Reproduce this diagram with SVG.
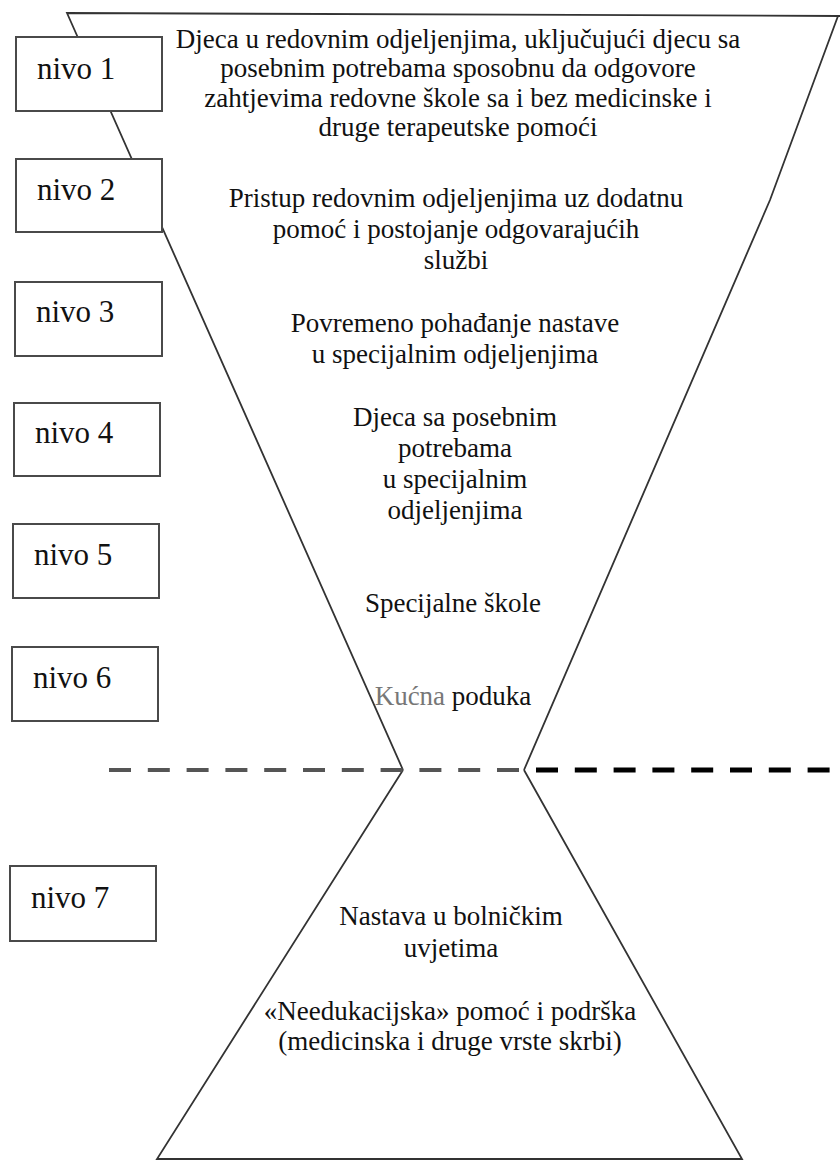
<svg xmlns="http://www.w3.org/2000/svg" width="840" height="1162" viewBox="0 0 840 1162">
<style>
.box{fill:#fff;stroke:#4a4a4a;stroke-width:2}
.lbl{font-family:"Liberation Serif","Times New Roman",serif;font-size:31px;fill:#111}
.txt{font-family:"Liberation Serif","Times New Roman",serif;font-size:27px;fill:#111;text-anchor:middle}
.edge{fill:none;stroke:#333;stroke-width:1.8;stroke-linejoin:miter}
.dashg{stroke:#555;stroke-width:4;stroke-dasharray:22 16.8;fill:none}
.dashb{stroke:#000;stroke-width:5;stroke-dasharray:22 16.8;fill:none}
</style>
<rect width="840" height="1162" fill="#fff"/>
<g id="funnel">
<polyline class="edge" points="403,770 67,13 840,16"/>
<polyline class="edge" points="838,16 770,200 524,770"/>
<polyline class="edge" points="403,770 157,1159 742,1159 524,770"/>
</g>
<g id="connectors">
<line class="dashg" x1="109" y1="770" x2="522" y2="770"/>
<line class="dashb" x1="536" y1="770" x2="832" y2="770"/>
</g>
<g id="nivo1"><rect class="box" x="16" y="37" width="146" height="74"/><text class="lbl" x="37" y="79">nivo 1</text></g>
<g id="nivo2"><rect class="box" x="16" y="159" width="146" height="73"/><text class="lbl" x="37" y="200">nivo 2</text></g>
<g id="nivo3"><rect class="box" x="15" y="282" width="147" height="74"/><text class="lbl" x="36" y="322">nivo 3</text></g>
<g id="nivo4"><rect class="box" x="14" y="403" width="146" height="73"/><text class="lbl" x="35" y="443">nivo 4</text></g>
<g id="nivo5"><rect class="box" x="13" y="524" width="146" height="74"/><text class="lbl" x="34" y="565">nivo 5</text></g>
<g id="nivo6"><rect class="box" x="12" y="647" width="146" height="74"/><text class="lbl" x="33" y="688">nivo 6</text></g>
<g id="nivo7"><rect class="box" x="10" y="866" width="146" height="75"/><text class="lbl" x="31" y="908">nivo 7</text></g>
<g id="text1">
<text class="txt" x="458" y="48">Djeca u redovnim odjeljenjima, uključujući djecu sa</text>
<text class="txt" x="458" y="77">posebnim potrebama sposobnu da odgovore</text>
<text class="txt" x="458" y="107">zahtjevima redovne škole sa i bez medicinske i</text>
<text class="txt" x="458" y="136">druge terapeutske pomoći</text>
</g>
<g id="text2">
<text class="txt" x="456" y="207">Pristup redovnim odjeljenjima uz dodatnu</text>
<text class="txt" x="456" y="238">pomoć i postojanje odgovarajućih</text>
<text class="txt" x="456" y="269">službi</text>
</g>
<g id="text3">
<text class="txt" x="455" y="332">Povremeno pohađanje nastave</text>
<text class="txt" x="455" y="363">u specijalnim odjeljenjima</text>
</g>
<g id="text4">
<text class="txt" x="455" y="426">Djeca sa posebnim</text>
<text class="txt" x="455" y="457">potrebama</text>
<text class="txt" x="455" y="488">u specijalnim</text>
<text class="txt" x="455" y="519">odjeljenjima</text>
</g>
<g id="text5"><text class="txt" x="453" y="612">Specijalne škole</text></g>
<g id="text6"><text class="txt" x="453" y="705"><tspan fill="#777">Kućna</tspan> poduka</text></g>
<g id="text7">
<text class="txt" x="451" y="925">Nastava u bolničkim</text>
<text class="txt" x="451" y="957">uvjetima</text>
<text class="txt" x="450" y="1020">«Needukacijska» pomoć i podrška</text>
<text class="txt" x="450" y="1050">(medicinska i druge vrste skrbi)</text>
</g>
</svg>
